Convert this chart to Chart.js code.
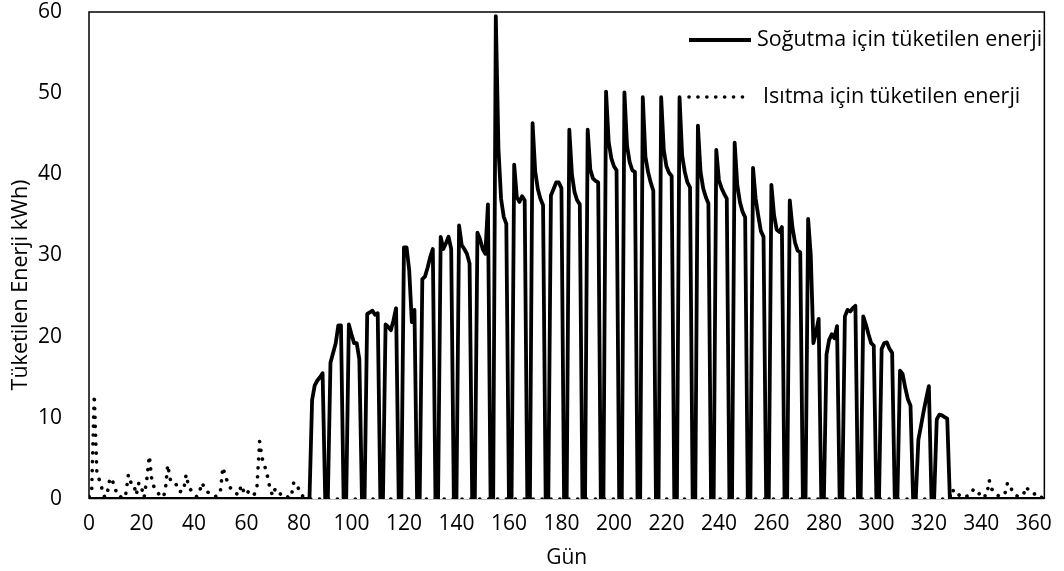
<!DOCTYPE html>
<html>
<head>
<meta charset="utf-8">
<script src="https://cdn.jsdelivr.net/npm/chart.js@4"></script>
<style>
  html, body { margin: 0; padding: 0; background: #fff; }
</style>
</head>
<body>
<canvas id="energyChart" width="1064" height="571"></canvas>
<script>
// axis setup
const xMax = 364;
const xStep = 20;
const yMin = 0;
const yMax = 60;
const yStep = 10;
const xTitle = 'Gün';
const yTitle = 'Tüketilen Enerji kWh)';
const coolingLabel = 'Soğutma için tüketilen enerji';
const heatingLabel = 'Isıtma için tüketilen enerji';

// daily cooling energy, day 0 .. 364
const cooling = [
  // days 0-84
  0,0,0,0,0,0,0,0,0,0,0,0,0,0,0,0,0,
  0,0,0,0,0,0,0,0,0,0,0,0,0,0,0,0,0,
  0,0,0,0,0,0,0,0,0,0,0,0,0,0,0,0,0,
  0,0,0,0,0,0,0,0,0,0,0,0,0,0,0,0,0,
  0,0,0,0,0,0,0,0,0,0,0,0,0,0,0,0,0,
  // days 85-329, one row a week
  12.2, 14.0, 14.6, 15.0, 15.5, 0, 0,
  16.8, 18.0, 19.2, 21.4, 21.4, 0, 0,
  21.5, 20.3, 19.2, 19.2, 17.2, 0, 0,
  22.8, 23.0, 23.2, 22.7, 22.9, 0, 0,
  21.5, 21.2, 20.8, 22.0, 23.5, 0, 0,
  31.0, 31.0, 28.2, 21.8, 23.3, 0, 0,
  27.1, 27.4, 28.5, 29.8, 30.8, 0, 0,
  32.3, 30.8, 31.5, 32.3, 30.8, 0, 0,
  33.7, 31.3, 30.8, 30.2, 29.0, 0, 0,
  32.8, 32.0, 30.8, 30.2, 36.3, 0, 0,
  59.5, 43.2, 37.0, 34.8, 33.9, 0, 0,
  41.2, 37.2, 36.6, 37.3, 36.8, 0, 0,
  46.3, 40.4, 38.2, 37.0, 36.2, 0, 0,
  37.4, 38.2, 39.0, 39.0, 38.3, 0, 0,
  45.5, 40.0, 37.8, 36.8, 36.3, 0, 0,
  45.5, 40.6, 39.5, 39.2, 39.0, 0, 0,
  50.2, 44.0, 42.0, 41.0, 40.5, 0, 0,
  50.1, 43.5, 41.5, 40.5, 40.3, 0, 0,
  49.5, 42.2, 40.3, 39.0, 38.0, 0, 0,
  49.5, 43.0, 41.0, 40.2, 39.8, 0, 0,
  49.5, 42.3, 40.3, 39.0, 38.4, 0, 0,
  46.0, 40.3, 38.3, 37.2, 36.4, 0, 0,
  43.0, 39.3, 38.3, 37.6, 37.0, 0, 0,
  43.9, 38.7, 36.6, 35.4, 34.7, 0, 0,
  40.8, 37.0, 34.9, 33.0, 32.3, 0, 0,
  38.7, 35.0, 33.2, 32.9, 33.5, 0, 0,
  36.8, 33.5, 31.6, 30.6, 30.4, 0, 0,
  34.5, 30.0, 19.2, 20.5, 22.2, 0, 0,
  17.8, 19.6, 20.3, 19.8, 21.3, 0, 0,
  22.5, 23.3, 23.1, 23.5, 23.8, 0, 0,
  22.5, 21.5, 20.3, 19.2, 18.9, 0, 0,
  18.5, 19.2, 19.3, 18.5, 18.0, 0, 0,
  15.8, 15.4, 13.7, 12.3, 11.5, 0, 0,
  7.3, 9.0, 10.8, 12.4, 13.9, 0, 0,
  9.8, 10.4, 10.3, 10.1, 9.9, 0, 0,
  // days 330-364
  0,0,0,0,0,0,0,
  0,0,0,0,0,0,0,
  0,0,0,0,0,0,0,
  0,0,0,0,0,0,0,
  0,0,0,0,0,0,0
];

// daily heating energy, day 0 .. 364
const heating = [
  // days 0-84
  0.3, 0.8, 12.8, 3.3, 2.3, 1.2, 0.2, 0.8, 2.6, 2.2,
  1.2, 0.5, 0.2, 0.8, 0.6, 3.0, 2.0, 1.9, 0.5, 2.0,
  1.4, 0.2, 2.4, 5.3, 2.2, 1.3, 0.9, 0.4, 0.2, 0.8,
  4.2, 2.4, 2.0, 2.0, 1.0, 0.9, 1.0, 3.0, 1.5, 1.0,
  0.6, 0.3, 0.7, 2.0, 1.4, 0.9, 0.7, 0.5, 0.3, 0.4,
  0.8, 3.9, 2.8, 1.9, 1.3, 1.1, 0.7, 0.5, 1.7, 0.9,
  0.5, 1.1, 0.8, 0.6, 1.5, 7.1, 5.0, 4.0, 2.8, 1.2,
  0.4, 1.3, 0.9, 0.6, 0.3, 0.4, 0.2, 0.2, 2.0, 2.0,
  1.1, 0.5, 0.2, 0.1, 0,
  // days 85-327
  0,0,0,0,0,0,0,0,0,0,0,0,0,0,0,0,0,0,0,0,0,0,0,0,0,0,0,
  0,0,0,0,0,0,0,0,0,0,0,0,0,0,0,0,0,0,0,0,0,0,0,0,0,0,0,
  0,0,0,0,0,0,0,0,0,0,0,0,0,0,0,0,0,0,0,0,0,0,0,0,0,0,0,
  0,0,0,0,0,0,0,0,0,0,0,0,0,0,0,0,0,0,0,0,0,0,0,0,0,0,0,
  0,0,0,0,0,0,0,0,0,0,0,0,0,0,0,0,0,0,0,0,0,0,0,0,0,0,0,
  0,0,0,0,0,0,0,0,0,0,0,0,0,0,0,0,0,0,0,0,0,0,0,0,0,0,0,
  0,0,0,0,0,0,0,0,0,0,0,0,0,0,0,0,0,0,0,0,0,0,0,0,0,0,0,
  0,0,0,0,0,0,0,0,0,0,0,0,0,0,0,0,0,0,0,0,0,0,0,0,0,0,0,
  0,0,0,0,0,0,0,0,0,0,0,0,0,0,0,0,0,0,0,0,0,0,0,0,0,0,0,
  // days 328-364
  0.2, 1.2, 0.6, 0.7, 0.3, 0.2, 0.3, 0.4, 0.6, 1.2,
  0.8, 0.6, 0.9, 0.4, 0.4, 2.3, 1.2, 0.9, 0.5, 0.3,
  0.4, 0.7, 2.0, 1.6, 0.8, 0.5, 0.3, 0.4, 0.5, 1.5,
  1.1, 0.8, 0.6, 0.7, 0.3, 0.2, 0.1
];

const toPoints = arr => arr.map((v, i) => ({ x: i, y: v }));

const fontFamily = "'Open Sans', 'Noto Sans', sans-serif";
const tickFont = { family: fontFamily, size: 21 };
const legendFont = '21.5px ' + fontFamily;

// black box round the plot area, grey axis line at the bottom
const frame = {
  id: 'frame',
  beforeDatasetsDraw(chart) {
    const { ctx, chartArea: a } = chart;
    ctx.save();
    ctx.strokeStyle = '#bfbfbf';
    ctx.lineWidth = 1;
    ctx.beginPath();
    ctx.moveTo(a.left, a.bottom + 0.5);
    ctx.lineTo(a.right, a.bottom + 0.5);
    ctx.stroke();
    ctx.strokeStyle = '#000';
    ctx.lineWidth = 1.5;
    ctx.beginPath();
    ctx.moveTo(a.left, a.bottom);
    ctx.lineTo(a.left, a.top);
    ctx.lineTo(a.right, a.top);
    ctx.lineTo(a.right, a.bottom);
    ctx.stroke();
    ctx.restore();
  }
};

// y title sits a bit below the middle of the axis in the original
const yAxisTitle = {
  id: 'yAxisTitle',
  afterDraw(chart) {
    const ctx = chart.ctx;
    ctx.save();
    ctx.translate(21, 285);
    ctx.rotate(-Math.PI / 2);
    ctx.fillStyle = '#000';
    ctx.font = '21.5px ' + fontFamily;
    ctx.textAlign = 'center';
    ctx.textBaseline = 'middle';
    ctx.fillText(yTitle, 0, 0);
    ctx.restore();
  }
};

// legend in the top right corner, line sample + label
const lineLegend = {
  id: 'lineLegend',
  afterDraw(chart) {
    const ctx = chart.ctx;
    const rowsY = [40, 97];
    const textX = [757, 763];
    chart.data.datasets.forEach((ds, i) => {
      const y = rowsY[i];
      ctx.save();
      ctx.strokeStyle = ds.borderColor;
      ctx.lineWidth = ds.borderWidth;
      ctx.lineCap = ds.borderCapStyle || 'butt';
      ctx.setLineDash(ds.borderDash || []);
      ctx.beginPath();
      ctx.moveTo(689, y);
      ctx.lineTo(751, y);
      ctx.stroke();
      ctx.setLineDash([]);
      ctx.fillStyle = '#000';
      ctx.font = legendFont;
      ctx.textBaseline = 'middle';
      ctx.fillText(ds.label, textX[i], y);
      ctx.restore();
    });
  }
};

new Chart(document.getElementById('energyChart'), {
  type: 'line',
  data: {
    datasets: [
      {
        label: coolingLabel,
        data: toPoints(cooling),
        borderColor: '#000',
        borderWidth: 3.8,
        borderJoinStyle: 'round',
        pointRadius: 0,
        tension: 0,
        order: 2
      },
      {
        label: heatingLabel,
        data: toPoints(heating),
        borderColor: '#000',
        borderWidth: 3.6,
        borderCapStyle: 'round',
        borderDash: [0.1, 8.8],
        pointRadius: 0,
        tension: 0,
        order: 1
      }
    ]
  },
  options: {
    responsive: false,
    animation: false,
    layout: { padding: { top: 12, right: 12, left: 0, bottom: 0 } },
    plugins: {
      legend: { display: false },
      tooltip: { enabled: false }
    },
    scales: {
      x: {
        type: 'linear',
        min: 0,
        max: xMax,
        grid: { display: false, drawTicks: false },
        border: { display: false },
        ticks: { stepSize: xStep, includeBounds: false, padding: 12, maxRotation: 0, color: '#000', font: tickFont },
        title: { display: true, text: xTitle, color: '#000', font: tickFont, padding: { top: 0, bottom: 0 } },
        afterFit: s => { s.height = 72; }
      },
      y: {
        min: yMin,
        max: yMax,
        grid: { display: false, drawTicks: false },
        border: { display: false },
        ticks: { stepSize: yStep, padding: 27, color: '#000', font: tickFont },
        title: { display: false },
        afterFit: s => {
          s.width = 89;
          // keep the tick padding from pushing the plot area down
          s.paddingTop = 0;
          s.paddingBottom = 0;
        }
      }
    }
  },
  plugins: [frame, yAxisTitle, lineLegend]
});
</script>
</body>
</html>
